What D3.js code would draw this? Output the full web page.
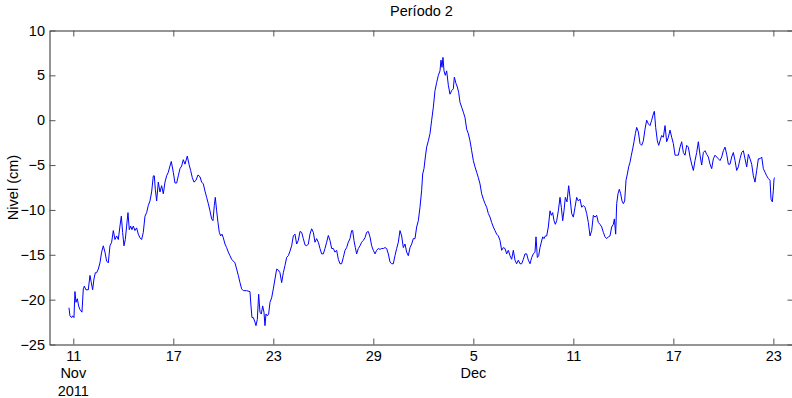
<!DOCTYPE html>
<html>
<head>
<meta charset="utf-8">
<script src="https://cdn.jsdelivr.net/npm/d3@7"></script>
<style>
  body { margin: 0; background: #fff; }
  text { font-family: Arial, "Liberation Sans", sans-serif; }
</style>
</head>
<body>
<svg width="792" height="398"></svg>
<script>
// title / labels
var titulo = "Período 2";
var yLabel = "Nivel (cm)";

// series: [days since 10 Nov 2011 00:00 UTC, level in cm]
var serie = [
  [0.74,-20.9],[0.80,-21.8],[0.90,-22.0],[0.96,-21.8],[1.04,-22.0],[1.10,-19.1],[1.16,-20.3],[1.24,-19.9],
  [1.32,-20.7],[1.40,-21.1],[1.52,-21.4],[1.60,-18.8],[1.66,-18.5],[1.76,-18.9],[1.90,-18.9],[2.00,-17.3],
  [2.08,-18.1],[2.16,-18.9],[2.24,-17.7],[2.32,-17.0],[2.40,-17.0],[2.50,-16.6],[2.60,-15.9],[2.70,-14.7],
  [2.80,-14.0],[2.90,-14.7],[3.00,-15.7],[3.10,-15.9],[3.20,-14.0],[3.30,-13.6],[3.40,-12.3],[3.50,-13.3],
  [3.60,-12.9],[3.70,-13.3],[3.80,-11.8],[3.88,-10.7],[3.96,-12.5],[4.04,-14.0],[4.12,-13.3],[4.20,-11.8],
  [4.28,-10.3],[4.36,-12.2],[4.44,-11.8],[4.52,-12.2],[4.60,-11.8],[4.70,-12.3],[4.80,-12.0],[4.90,-12.7],
  [5.00,-13.1],[5.10,-13.3],[5.20,-12.5],[5.30,-10.7],[5.40,-10.3],[5.50,-9.5],[5.60,-9.0],[5.70,-8.0],
  [5.80,-6.2],[5.86,-6.2],[5.92,-7.7],[6.00,-9.0],[6.10,-6.9],[6.20,-8.0],[6.30,-7.3],[6.40,-8.2],
  [6.50,-6.9],[6.60,-6.2],[6.70,-5.8],[6.80,-5.1],[6.88,-4.6],[7.00,-5.8],[7.10,-7.0],[7.20,-7.0],
  [7.30,-6.2],[7.40,-5.4],[7.50,-5.1],[7.60,-4.4],[7.70,-4.9],[7.84,-4.0],[7.94,-4.9],[8.04,-5.6],
  [8.14,-6.4],[8.24,-6.9],[8.36,-6.7],[8.48,-6.1],[8.60,-6.3],[8.70,-6.9],[8.80,-7.1],[8.90,-7.9],
  [9.00,-8.6],[9.10,-9.3],[9.20,-10.1],[9.30,-11.0],[9.38,-11.2],[9.46,-9.5],[9.52,-8.6],[9.60,-10.1],
  [9.68,-11.4],[9.76,-12.5],[9.84,-12.9],[9.92,-12.7],[10.00,-13.1],[10.10,-13.8],[10.20,-14.2],[10.30,-14.7],
  [10.40,-15.1],[10.50,-15.5],[10.60,-15.7],[10.70,-15.9],[10.80,-16.6],[10.90,-17.3],[11.00,-18.1],[11.10,-18.8],
  [11.20,-19.0],[11.30,-19.0],[11.40,-19.0],[11.60,-19.1],[11.66,-20.7],[11.72,-22.0],[11.80,-22.0],[11.90,-22.5],
  [11.96,-22.9],[12.04,-22.2],[12.12,-19.4],[12.20,-21.4],[12.28,-21.6],[12.36,-20.7],[12.44,-21.4],[12.50,-22.9],
  [12.56,-21.6],[12.64,-21.8],[12.72,-21.6],[12.80,-20.3],[12.90,-19.8],[13.00,-18.8],[13.10,-17.7],[13.20,-16.6],
  [13.30,-16.7],[13.40,-17.0],[13.50,-18.1],[13.60,-17.0],[13.70,-16.2],[13.80,-15.3],[13.90,-15.1],[14.00,-14.6],
  [14.10,-14.0],[14.20,-12.9],[14.30,-12.7],[14.40,-13.8],[14.50,-13.4],[14.60,-12.4],[14.70,-12.5],[14.80,-13.2],
  [14.90,-13.9],[15.00,-14.0],[15.10,-13.8],[15.20,-12.7],[15.30,-12.1],[15.40,-12.5],[15.50,-13.6],[15.60,-13.2],
  [15.70,-13.6],[15.80,-14.3],[15.90,-14.9],[16.00,-14.9],[16.10,-14.3],[16.20,-13.6],[16.30,-12.85],[16.40,-13.4],
  [16.50,-14.3],[16.60,-14.3],[16.70,-14.7],[16.80,-14.5],[16.90,-15.5],[17.00,-16.0],[17.10,-16.0],[17.20,-15.3],
  [17.30,-14.5],[17.40,-14.2],[17.50,-13.6],[17.60,-13.2],[17.70,-12.3],[17.76,-12.3],[17.84,-13.4],[17.92,-14.2],
  [18.00,-14.9],[18.10,-14.3],[18.20,-14.0],[18.30,-13.6],[18.40,-13.4],[18.50,-13.1],[18.60,-12.5],[18.70,-12.4],
  [18.80,-13.0],[18.90,-14.0],[19.00,-14.5],[19.10,-14.9],[19.20,-14.5],[19.30,-14.3],[19.40,-14.4],[19.50,-14.3],
  [19.60,-14.3],[19.70,-14.2],[19.80,-14.3],[19.90,-14.9],[20.00,-15.8],[20.10,-16.0],[20.20,-16.0],[20.30,-15.1],
  [20.40,-14.3],[20.50,-13.6],[20.60,-12.3],[20.70,-12.9],[20.80,-14.2],[20.90,-13.8],[21.00,-14.7],[21.10,-15.1],
  [21.20,-14.2],[21.30,-13.8],[21.40,-13.2],[21.50,-13.2],[21.60,-11.9],[21.70,-11.2],[21.80,-9.7],[21.90,-7.8],
  [21.96,-6.0],[22.04,-5.4],[22.12,-4.1],[22.20,-3.0],[22.30,-2.3],[22.40,-1.5],[22.50,0.0],[22.60,1.45],
  [22.70,3.3],[22.80,4.2],[22.90,5.0],[23.00,5.5],[23.06,6.7],[23.12,5.9],[23.18,7.0],[23.24,5.5],
  [23.32,5.0],[23.40,5.5],[23.50,3.9],[23.60,2.9],[23.70,3.3],[23.80,3.5],[23.86,4.8],[23.96,4.1],
  [24.04,3.7],[24.12,3.1],[24.20,2.0],[24.30,1.45],[24.40,0.9],[24.50,0.3],[24.60,-1.0],[24.70,-1.5],
  [24.80,-2.3],[24.90,-3.4],[25.00,-4.5],[25.10,-5.2],[25.20,-5.8],[25.30,-6.4],[25.40,-7.1],[25.50,-8.2],
  [25.60,-8.8],[25.70,-9.3],[25.80,-9.7],[25.90,-10.4],[26.00,-10.8],[26.10,-11.4],[26.20,-11.9],[26.30,-12.3],
  [26.40,-12.7],[26.50,-12.9],[26.60,-13.4],[26.70,-14.5],[26.80,-14.2],[26.90,-14.3],[27.00,-14.9],[27.10,-14.5],
  [27.20,-15.1],[27.30,-15.5],[27.40,-14.5],[27.50,-15.6],[27.60,-16.0],[27.70,-15.6],[27.80,-16.0],[27.90,-16.0],
  [28.00,-15.5],[28.10,-14.9],[28.20,-14.9],[28.30,-15.6],[28.40,-16.0],[28.50,-15.3],[28.60,-14.9],[28.70,-14.7],
  [28.76,-13.0],[28.84,-15.3],[28.92,-15.1],[29.00,-14.2],[29.08,-13.6],[29.16,-13.0],[29.24,-13.2],[29.32,-12.9],
  [29.40,-12.9],[29.50,-11.9],[29.60,-10.1],[29.68,-10.6],[29.76,-10.3],[29.84,-11.2],[29.92,-11.6],[30.00,-11.2],
  [30.10,-10.1],[30.20,-8.6],[30.28,-9.7],[30.36,-11.2],[30.44,-10.1],[30.52,-8.6],[30.62,-9.1],[30.72,-7.3],
  [30.80,-8.6],[30.90,-10.4],[31.00,-10.8],[31.10,-9.7],[31.20,-8.6],[31.30,-9.0],[31.40,-8.8],[31.50,-9.7],
  [31.60,-9.5],[31.70,-9.7],[31.80,-10.4],[31.90,-11.4],[32.00,-12.9],[32.10,-12.3],[32.20,-10.6],[32.30,-10.8],
  [32.40,-10.6],[32.50,-11.4],[32.60,-11.6],[32.70,-11.9],[32.80,-12.5],[32.90,-13.0],[33.00,-13.2],[33.10,-13.0],
  [33.20,-12.9],[33.30,-11.9],[33.40,-11.6],[33.46,-11.0],[33.54,-12.7],[33.60,-9.3],[33.68,-8.2],[33.76,-7.7],
  [33.84,-8.2],[33.92,-9.0],[34.00,-9.3],[34.08,-9.0],[34.16,-6.7],[34.24,-6.0],[34.32,-5.2],[34.40,-4.7],
  [34.48,-3.9],[34.56,-3.2],[34.64,-2.4],[34.72,-1.5],[34.80,-0.8],[34.90,-1.3],[35.00,-2.6],[35.10,-2.8],
  [35.20,-2.3],[35.30,-1.0],[35.40,0.0],[35.50,-0.4],[35.60,-0.6],[35.70,0.0],[35.80,0.7],[35.86,1.0],
  [35.94,-0.8],[36.04,-2.3],[36.12,-2.8],[36.20,-2.3],[36.30,-1.7],[36.40,-1.9],[36.50,-0.6],[36.60,-2.4],
  [36.70,-1.9],[36.80,-1.1],[36.90,-1.9],[37.00,-2.6],[37.10,-3.9],[37.20,-3.9],[37.30,-3.9],[37.40,-3.0],
  [37.50,-2.4],[37.60,-3.6],[37.70,-3.9],[37.80,-2.8],[37.90,-3.0],[38.00,-4.1],[38.10,-4.9],[38.20,-5.6],
  [38.30,-4.5],[38.40,-3.6],[38.50,-2.4],[38.60,-3.9],[38.70,-5.0],[38.80,-3.6],[38.90,-3.4],[39.00,-3.8],
  [39.10,-4.1],[39.20,-4.9],[39.30,-5.4],[39.40,-4.3],[39.50,-3.9],[39.60,-4.1],[39.70,-4.3],[39.80,-4.5],
  [39.90,-4.1],[40.00,-3.4],[40.10,-3.0],[40.20,-3.8],[40.30,-4.9],[40.40,-4.9],[40.50,-4.1],[40.60,-3.6],
  [40.70,-4.5],[40.80,-5.6],[40.90,-5.2],[41.00,-4.3],[41.10,-3.6],[41.20,-3.4],[41.30,-4.3],[41.40,-5.2],
  [41.50,-3.8],[41.60,-4.3],[41.70,-4.9],[41.80,-6.2],[41.90,-6.9],[42.00,-5.6],[42.10,-4.3],[42.20,-4.3],
  [42.30,-4.1],[42.40,-5.4],[42.50,-5.8],[42.60,-6.2],[42.70,-6.5],[42.80,-6.7],[42.86,-8.8],[42.94,-9.1],
  [43.00,-7.8],[43.04,-6.5],[43.10,-6.4]
];

// axes
var yTicks = [-25, -20, -15, -10, -5, 0, 5, 10];
var xTicks = ["2011-11-11", "2011-11-17", "2011-11-23", "2011-11-29",
              "2011-12-05", "2011-12-11", "2011-12-17", "2011-12-23"];
var monthLabels = [
  {date: "2011-11-11", lines: ["Nov", "2011"]},
  {date: "2011-12-05", lines: ["Dec"]}
];
var xLimits = ["2011-11-09T13:44:00Z", "2011-12-24T05:00:00Z"];
var yLimits = [-25, 10];

var svg = d3.select("svg");
// plot box (note: "top" is reserved on window, so use plotTop etc.)
var plotLeft = 49.5, plotRight = 793.5, plotTop = 30.5, plotBottom = 344.5;
var t0 = Date.UTC(2011, 10, 10);

var x = d3.scaleUtc()
    .domain(xLimits.map(function(d) { return new Date(d); }))
    .range([plotLeft, plotRight]);
var y = d3.scaleLinear()
    .domain(yLimits)
    .range([plotBottom, plotTop]);

var fontSize = "14.5px";
var axisColor = "#2b2b2b";

// data line
var line = d3.line()
    .x(function(d) { return x(new Date(t0 + d[0] * 864e5)); })
    .y(function(d) { return y(d[1]); });

svg.append("path")
    .datum(serie)
    .attr("fill", "none")
    .attr("stroke", "#0000ff")
    .attr("stroke-width", 1)
    .attr("stroke-linejoin", "round")
    .attr("d", line);

var tickDates = xTicks.map(function(d) { return new Date(d + "T00:00:00Z"); });

// bottom axis, ticks inside
var gx = svg.append("g")
    .attr("transform", "translate(0," + plotBottom + ")")
    .call(d3.axisBottom(x).tickValues(tickDates)
        .tickFormat(d3.utcFormat("%-d"))
        .tickSizeInner(-6).tickSizeOuter(0).tickPadding(6));

// top axis (no labels)
var gxt = svg.append("g")
    .attr("transform", "translate(0," + plotTop + ")")
    .call(d3.axisTop(x).tickValues(tickDates).tickFormat("")
        .tickSizeInner(-6).tickSizeOuter(0));

// left axis
var gy = svg.append("g")
    .attr("transform", "translate(" + plotLeft + ",0)")
    .call(d3.axisLeft(y).tickValues(yTicks)
        .tickSizeInner(-6).tickSizeOuter(0).tickPadding(4.5));

// right axis (no labels)
var gyr = svg.append("g")
    .attr("transform", "translate(" + plotRight + ",0)")
    .call(d3.axisRight(y).tickValues(yTicks).tickFormat("")
        .tickSizeInner(-6).tickSizeOuter(0));

[gx, gxt, gy, gyr].forEach(function(g) {
    g.select(".domain").attr("stroke", axisColor);
    g.selectAll(".tick line").attr("stroke", "#555");
    g.selectAll("text")
        .attr("font-size", fontSize)
        .attr("font-family", "Arial, 'Liberation Sans', sans-serif")
        .attr("fill", "#000");
});

// month / year lines under tick labels
monthLabels.forEach(function(m) {
    var d = new Date(m.date + "T00:00:00Z");
    m.lines.forEach(function(s, i) {
        svg.append("text")
            .attr("x", x(d))
            .attr("y", 378 + i * 17.5)
            .attr("text-anchor", "middle")
            .attr("font-size", fontSize)
            .text(s);
    });
});

// title
svg.append("text")
    .attr("x", (plotLeft + plotRight) / 2)
    .attr("y", 16)
    .attr("text-anchor", "middle")
    .attr("font-size", fontSize)
    .text(titulo);

// y label
svg.append("text")
    .attr("transform", "translate(18," + ((plotTop + plotBottom) / 2) + ") rotate(-90)")
    .attr("text-anchor", "middle")
    .attr("font-size", fontSize)
    .text(yLabel);
</script>
</body>
</html>
